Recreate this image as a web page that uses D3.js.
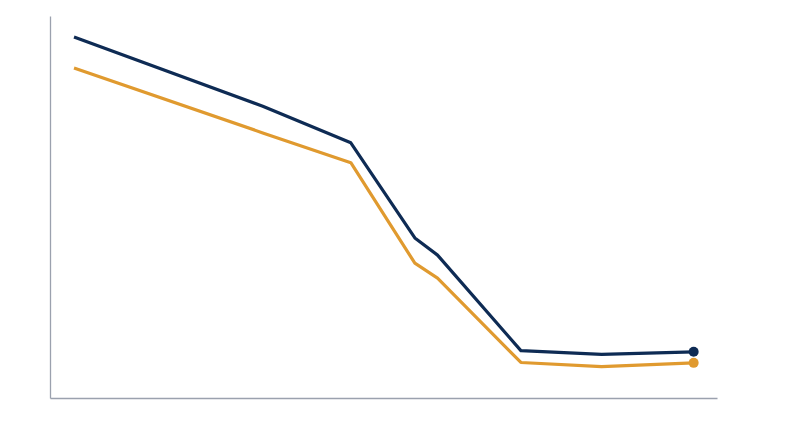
<!DOCTYPE html>
<html>
<head>
<meta charset="utf-8">
<script src="https://cdn.jsdelivr.net/npm/d3@7"></script>
<style>
  html, body { margin: 0; padding: 0; background: #fff; }
  svg { display: block; }
</style>
</head>
<body>
<div id="chart"></div>
<script>
// positions along the x axis (0-100 scale) and values for the two series
var xValues = [3.6, 31.9, 45.1, 54.7, 58.1, 70.6, 82.7, 96.5];
var navyValues = [94.5, 76.4, 66.8, 41.9, 37.4, 12.4, 11.4, 12.1];
var goldValues = [86.4, 69.4, 61.6, 35.3, 31.4, 9.3, 8.2, 9.2];

var width = 800, height = 447;
var margin = { top: 16, right: 83, bottom: 49, left: 50 };

var svg = d3.select("#chart").append("svg")
  .attr("width", width)
  .attr("height", height);

var x = d3.scaleLinear().domain([0, 100]).range([margin.left, width - margin.right]);
var y = d3.scaleLinear().domain([0, 100]).range([height - margin.bottom, margin.top]);

// axes - plain lines, no ticks or labels
svg.append("g")
  .attr("transform", "translate(0," + y(0) + ")")
  .call(d3.axisBottom(x).tickValues([]).tickSizeOuter(0));
svg.append("g")
  .attr("transform", "translate(" + x(0) + ",0)")
  .call(d3.axisLeft(y).tickValues([]).tickSizeOuter(0));
svg.selectAll(".domain").attr("stroke", "#9ba1ae").attr("stroke-width", 1.3);

var series = [
  { name: "navy", values: navyValues, color: "#0e2b54" },
  { name: "gold", values: goldValues, color: "#e09a2f" }
];

var line = d3.line()
  .x(function(d, i) { return x(xValues[i]); })
  .y(function(d) { return y(d); });

// draw gold first so navy sits on top
series.slice().reverse().forEach(function(s) {
  svg.append("path")
    .datum(s.values)
    .attr("fill", "none")
    .attr("stroke", s.color)
    .attr("stroke-width", 3.2)
    .attr("stroke-linejoin", "round")
    .attr("d", line);

  var last = s.values.length - 1;
  svg.append("circle")
    .attr("cx", x(xValues[last]))
    .attr("cy", y(s.values[last]))
    .attr("r", 5)
    .attr("fill", s.color);
});
</script>
</body>
</html>
